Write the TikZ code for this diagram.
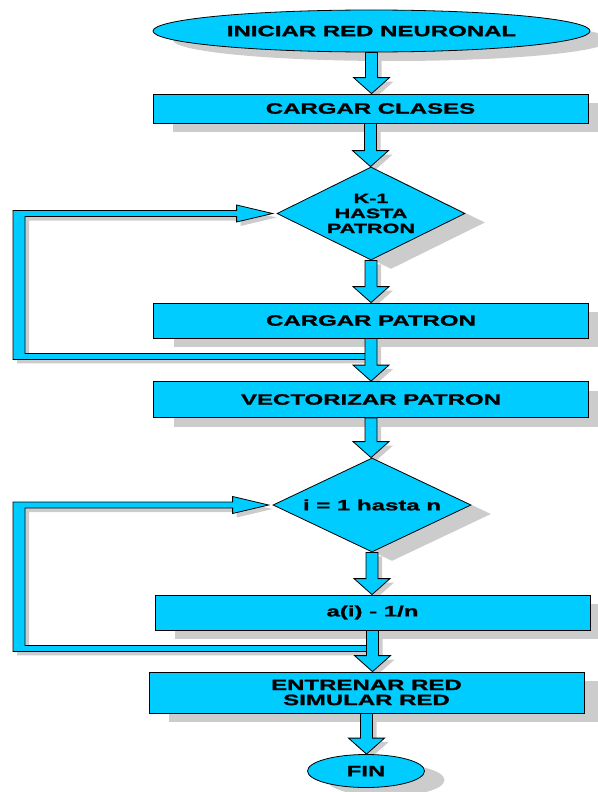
\documentclass[tikz,border=0pt]{standalone}
\usepackage{fontspec}
\newfontfamily\lbl[FakeStretch=1.6,FakeBold=1.2]{Liberation Sans}
\usetikzlibrary{shapes.geometric,shadows,calc}
\definecolor{boxcyan}{HTML}{00CCFF}
\definecolor{shgray}{HTML}{CCCCCC}
\pgfdeclarelayer{bg}
\pgfsetlayers{bg,main}
\tikzset{
  base/.style={draw=black, line width=0.8pt, fill=boxcyan, inner sep=0pt,
    font=\lbl\bfseries\fontsize{15}{15}\selectfont,
    general shadow={fill=shgray, shadow xshift=20pt, shadow yshift=-9pt}},
  procbox/.style={base, rectangle, minimum width=435pt},
  term/.style={base, ellipse},
  decide/.style={base, diamond, aspect=2, align=center},
  arrfill/.style={draw=black, line width=0.8pt, fill=boxcyan, line join=miter},
  arrshadow/.style={fill=shgray, transform canvas={xshift=4pt,yshift=-4pt}},
}
\newcommand\blockarrow[2]{%
  \begin{pgfonlayer}{bg}
  \path[arrshadow] let \p1=(#1), \p2=(#2) in
    (\x1-6pt,\y1) -- (\x1-6pt,\y2+16pt) -- (\x1-18pt,\y2+16pt) -- (\x1,\y2)
    -- (\x1+18pt,\y2+16pt) -- (\x1+6pt,\y2+16pt) -- (\x1+6pt,\y1) -- cycle;
  \end{pgfonlayer}
  \path[arrfill] let \p1=(#1), \p2=(#2) in
    (\x1-6pt,\y1) -- (\x1-6pt,\y2+16pt) -- (\x1-18pt,\y2+16pt) -- (\x1,\y2)
    -- (\x1+18pt,\y2+16pt) -- (\x1+6pt,\y2+16pt) -- (\x1+6pt,\y1) -- cycle;}
\newcommand\loopback[2]{%
  \begin{pgfonlayer}{bg}
  \path[arrshadow] let \p1=(#1.west), \p2=(#2.south) in
    (13pt,\y1+3pt) -- (\x1-40pt,\y1+3pt) -- (\x1-40pt,\y1+8.5pt) -- (\x1-4pt,\y1)
    -- (\x1-40pt,\y1-8.5pt) -- (\x1-40pt,\y1-3pt) -- (25pt,\y1-3pt) -- (25pt,\y2-15pt)
    -- (\x2-2pt,\y2-15pt) -- (\x2-2pt,\y2-21pt) -- (13pt,\y2-21pt) -- cycle;
  \end{pgfonlayer}
  \path[arrfill] let \p1=(#1.west), \p2=(#2.south) in
    (13pt,\y1+3pt) -- (\x1-40pt,\y1+3pt) -- (\x1-40pt,\y1+8.5pt) -- (\x1-4pt,\y1)
    -- (\x1-40pt,\y1-8.5pt) -- (\x1-40pt,\y1-3pt) -- (25pt,\y1-3pt) -- (25pt,\y2-15pt)
    -- (\x2-2pt,\y2-15pt) -- (\x2-2pt,\y2-21pt) -- (13pt,\y2-21pt) -- cycle;}
\begin{document}
\begin{tikzpicture}[x=1pt,y=-1pt]
\useasboundingbox (0,0) rectangle (597,792);
\node[term, minimum width=437pt, minimum height=42pt] (start) at (371.5,31) {INICIAR RED NEURONAL};
\node[procbox, minimum height=29pt] (clases) at (370.5,108.5) {CARGAR CLASES};
\node[decide, minimum width=188pt, minimum height=93pt,
      font=\lbl\bfseries\fontsize{13.5}{15}\selectfont] (d1) at (371,213.5) {K-1\\HASTA\\PATRON};
\node[procbox, minimum height=35pt] (patron) at (371,320.5) {CARGAR PATRON};
\node[procbox, minimum height=36pt] (vector) at (371,399.5) {VECTORIZAR PATRON};
\node[decide, minimum width=198pt, minimum height=94pt] (d2) at (372,505) {i = 1 hasta n};
\node[procbox, minimum height=35pt] (ai) at (372.5,612.5) {a(i) - 1/n};
\node[procbox, minimum height=41pt, align=center] (train) at (366.5,692.5) {ENTRENAR RED\\SIMULAR RED};
\node[term, minimum width=117pt, minimum height=33pt] (fin) at (366,771) {FIN};

\loopback{d1}{patron}
\loopback{d2}{ai}

\blockarrow{start.south}{clases.north}
\blockarrow{clases.south}{d1.north}
\blockarrow{d1.south}{patron.north}
\blockarrow{patron.south}{vector.north}
\blockarrow{vector.south}{d2.north}
\blockarrow{d2.south}{ai.north}
\blockarrow{ai.south}{train.north}
\blockarrow{train.south}{fin.north}
\end{tikzpicture}
\end{document}
